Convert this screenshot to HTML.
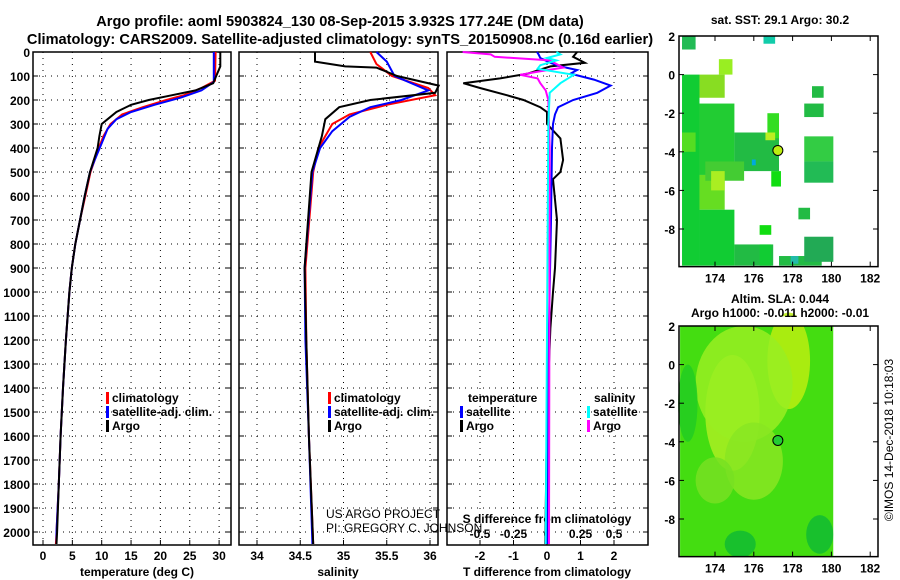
<!DOCTYPE html>
<html><head><meta charset="utf-8"><style>
body{margin:0;background:#fff;}
svg{display:block;font-family:"Liberation Sans",sans-serif;font-weight:bold;}
</style></head><body>
<svg id="c" width="900" height="580" viewBox="0 0 900 580">
<text x="340" y="26" text-anchor="middle" font-size="14.6">Argo profile: aoml 5903824_130 08-Sep-2015 3.932S 177.24E (DM data)</text>
<text x="340" y="44" text-anchor="middle" font-size="14.6">Climatology: CARS2009. Satellite-adjusted climatology: synTS_20150908.nc (0.16d earlier)</text>
<g id="g"></g>
</svg>
<script>
// ---- data ----
const depthTicks=[0,100,200,300,400,500,600,700,800,900,1000,1100,1200,1300,1400,1500,1600,1700,1800,1900,2000];
const tempTicks=[0,5,10,15,20,25,30];
const salTicks=[34,34.5,35,35.5,36];
const tdTicks=[-2,-1,0,1,2];
const sdTicks=[-0.5,-0.25,0,0.25,0.5];
const sdLabels=['-0.5','-0.25','0','0.25','0.5'];
const tArgoD=[0,60,100,130,160,180,200,220,250,280,300,350,400,500,600,700,800,900,1000,1200,1400,1600,1800,2000,2050];
const tArgo=[30.2,30.2,29.5,29,26,22,18,15,12.5,11,10,9.6,9.3,8.0,7.1,6.3,5.5,4.9,4.5,3.9,3.4,3.0,2.7,2.4,2.3];
const tClimD=[0,120,150,180,200,230,260,300,350,400,500,600,700,800,900,1000,1200,1400,1600,1800,2000,2050];
const tClim=[29.4,29.3,27,24,21,17,13.5,11.5,10.3,9.5,8.1,7.2,6.3,5.5,4.9,4.5,3.9,3.4,3.0,2.7,2.3,2.2];
const tSatD=[0,125,160,190,220,250,280,320,380,450,500,600,700,800,900,1000,1200,1400,1600,1800,2000,2050];
const tSat=[29.1,29.1,27,23.5,19,15,12.5,11,10,8.8,8.0,7.1,6.3,5.5,4.9,4.5,3.9,3.4,3.0,2.7,2.3,2.3];
const sArgoD=[0,40,60,65,100,140,170,200,230,280,350,500,900,1200,1600,2050];
const sArgo=[34.67,34.67,35.02,35.38,35.62,36.1,36.06,35.31,34.95,34.79,34.75,34.63,34.55,34.57,34.6,34.65];
const sClimD=[0,50,100,150,180,220,260,300,400,500,900,1200,1600,2050];
const sClim=[35.31,35.38,35.56,35.98,36.06,35.5,35.07,34.87,34.71,34.65,34.56,34.57,34.6,34.65];
const sSatD=[0,40,100,160,200,230,270,330,400,500,900,1200,1600,2050];
const sSat=[35.38,35.5,35.59,35.98,35.67,35.31,35.07,34.87,34.73,34.64,34.55,34.56,34.6,34.64];
const dtArgoD=[0,20,45,60,90,110,130,150,180,200,230,250,300,360,450,500,530,700,900,1000,1150,1500,2050];
const dtArgo=[0.9,0.78,1.13,0.1,-0.57,-1.4,-2.5,-2,-1.2,-0.7,-0.2,0,0,0.4,0.48,0.4,0.18,0.3,0.24,0.18,0.1,0,-0.05];
const dtSatD=[0,10,25,45,60,75,90,115,140,170,200,230,260,300,400,700,1200,2050];
const dtSat=[-0.3,-0.25,-0.2,0.1,0.4,0.9,0.7,1.4,1.9,1.5,0.78,0.33,0.24,0.18,0.15,0.12,0.05,0];
const dsArgoD=[0,10,20,35,50,65,80,95,110,130,160,200,400,2050];
const dsArgo=[-0.63,-0.42,-0.39,0.02,0.07,0.12,-0.05,-0.2,-0.07,-0.05,-0.01,0.01,0.02,0.015];
const dsSatD=[0,10,25,35,55,70,95,130,170,300,2050];
const dsSat=[0.07,0.1,0,0.07,-0.05,-0.07,0.2,0.1,0.02,0.01,-0.01];
// ---- geometry ----
const NS="http://www.w3.org/2000/svg";
const g=document.getElementById('g');
const yD=d=>52+d*0.24;
const xT=t=>43+t*5.87;
const xS=s=>257+(s-34)*86.5;
const xDT=v=>547+v*33.5;
const xDS=v=>547+v*134;
const pTop=52,pBot=545;
function el(tag,a,txt){const e=document.createElementNS(NS,tag);for(const k in a)e.setAttribute(k,a[k]);if(txt!==undefined)e.textContent=txt;g.appendChild(e);return e;}
function panel(x0,x1,name,xticks,xf,labels){
  const r=el('rect',{x:x0,y:pTop,width:x1-x0,height:pBot-pTop,fill:'none',stroke:'#000','stroke-width':1.5});
  
  
  depthTicks.forEach(d=>{const l=el('line',{x1:x0,x2:x1,y1:yD(d),y2:yD(d),stroke:'#000','stroke-dasharray':'1 5'});
    
    
    el('line',{x1:x0,x2:x0+5,y1:yD(d),y2:yD(d),stroke:'#000'});el('line',{x1:x1-5,x2:x1,y1:yD(d),y2:yD(d),stroke:'#000'});});
  xticks.forEach((v,i)=>{const x=xf(v);const l=el('line',{x1:x,x2:x,y1:pTop,y2:pBot,stroke:'#000','stroke-dasharray':'1 5'});
    
    
    el('line',{x1:x,x2:x,y1:pBot-5,y2:pBot,stroke:'#000'});
    if(labels){const t=el('text',{x:x,y:560,'text-anchor':'middle','font-size':12},String(v));
    
    }});
}
function line(ds,vs,xf,col,name,w){
  const p=ds.map((d,i)=>(i?'L':'M')+xf(vs[i]).toFixed(1)+' '+yD(d).toFixed(1)).join('');
  const e=el('path',{d:p,fill:'none',stroke:col,'stroke-width':w||2});
  
  
}
panel(33,231,'temperature-panel',tempTicks,xT,true);
panel(239,438,'salinity-panel',salTicks,xS,true);
panel(447,648,'difference-panel',tdTicks,xDT,true);
depthTicks.forEach(d=>{const t=el('text',{x:30,y:yD(d)+5,'text-anchor':'end','font-size':12},String(d));
  
  });
el('text',{x:137,y:576,'text-anchor':'middle','font-size':12},'temperature (deg C)');
el('text',{x:338,y:576,'text-anchor':'middle','font-size':12},'salinity');
el('text',{x:547,y:576,'text-anchor':'middle','font-size':12},'T difference from climatology');
el('text',{x:547,y:523,'text-anchor':'middle','font-size':12},'S difference from climatology');
sdTicks.forEach((v,i)=>{const t=el('text',{x:xDS(v),y:538,'text-anchor':'middle','font-size':12},sdLabels[i]);
  
  });
// series
line(tClimD,tClim,xT,'#f00','temp-climatology-line');
line(tSatD,tSat,xT,'#00f','temp-satellite-line');
line(tArgoD,tArgo,xT,'#000','temp-argo-line');
line(sClimD,sClim,xS,'#f00','sal-climatology-line');
line(sSatD,sSat,xS,'#00f','sal-satellite-line');
line(sArgoD,sArgo,xS,'#000','sal-argo-line');
line(dtArgoD,dtArgo,xDT,'#000','tdiff-argo-line');
line(dtSatD,dtSat,xDT,'#00f','tdiff-satellite-line');
line(dsArgoD,dsArgo,xDS,'#f0f','sdiff-argo-line');
line(dsSatD,dsSat,xDS,'#0ff','sdiff-satellite-line');
// legends
function leg(x,y,col,txt,name){el('rect',{x:x,y:y-10,width:3,height:12,fill:col});
  const t=el('text',{x:x+6,y:y,'font-size':12},txt);
  
  }
[['#f00','climatology'],['#00f','satellite-adj. clim.'],['#000','Argo']].forEach((a,i)=>{
  leg(106,402+i*14,a[0],a[1],'temp-legend-entry');leg(328,402+i*14,a[0],a[1],'sal-legend-entry');});
el('text',{x:468,y:402,'font-size':12},'temperature');
leg(460,416,'#00f','satellite','tdiff-legend-entry');leg(460,430,'#000','Argo','tdiff-legend-entry');
el('text',{x:594,y:402,'font-size':12},'salinity');
leg(587,416,'#0ff','satellite','sdiff-legend-entry');leg(587,430,'#f0f','Argo','sdiff-legend-entry');
el('text',{x:326,y:518,'font-size':12,'font-weight':'normal'},'US ARGO PROJECT');
el('text',{x:326,y:532,'font-size':12,'font-weight':'normal'},'PI: GREGORY C. JOHNSON');
// maps
const mx=lon=>715+(lon-174)*19.4;
const my1=lat=>36+(2-lat)*19.3, my2=lat=>326+(2-lat)*19.3;
const cells=[[172.3,2,173,1.3,'#22bb55'],[174.2,0.8,174.9,0,'#99ee22'],[176.5,2,177.1,1.6,'#11ccaa'],
[172.3,0,173.2,-9.9,'#11cc33'],[173.2,0,174.5,-1.2,'#88dd22'],[173.2,-1.5,175,-5.2,'#22cc33'],[173.2,-5.2,174.5,-7,'#66dd22'],
[173.2,-7,175,-9.9,'#11cc33'],[175,-3,177.3,-5,'#22bb44'],[175,-8.8,177,-9.9,'#22bb44'],[176.7,-2,177.3,-3.3,'#33dd22'],
[176.9,-5,177.4,-5.8,'#11dd11'],[176.3,-7.8,176.9,-8.3,'#11dd11'],[176.3,-8.8,176.9,-9.9,'#11cc33'],[177.3,-9.4,179.5,-9.9,'#22bb44'],
[179,-0.6,179.6,-1.2,'#22bb44'],[178.6,-1.5,179.6,-2.2,'#22bb44'],[178.6,-3.2,180.1,-4.5,'#33cc44'],[178.6,-4.5,180.1,-5.6,'#22bb55'],
[178.3,-6.9,178.9,-7.5,'#22bb44'],[178.6,-8.4,180.1,-9.7,'#22aa55'],[173.5,-4.5,175.5,-5.5,'#44cc33'],
[172.3,-3,173,-4,'#55dd22'],[173.8,-5,174.5,-6,'#aaee22'],[176.6,-3,177.1,-3.4,'#bbee22'],[175.9,-4.4,176.1,-4.7,'#00aadd'],[177.9,-9.4,178.3,-9.8,'#22bbaa']];
cells.forEach(c=>{const r=el('rect',{x:mx(c[0]),y:my1(c[1]),width:mx(c[2])-mx(c[0]),height:my1(c[3])-my1(c[1]),fill:c[4]});
  
  });
el('rect',{x:mx(172.2),y:my2(2),width:mx(180.1)-mx(172.2),height:my2(-9.95)-my2(2),fill:'#44dd11'});
[[174.9,-2.5,1.4,3,'#aaee22'],[177.8,0.2,1.1,2.5,'#bbee11'],[175.5,-1,2.5,3,'#99ee22'],[176,-5,1.5,2,'#88e622'],[174,-6,1,1.2,'#77e022'],
[179.4,-8.8,0.7,1,'#11bb33'],[175.3,-9.3,0.8,0.7,'#11bb33'],[172.6,-2,0.5,2,'#22cc22']].forEach(b=>{
  const e=el('ellipse',{cx:mx(b[0]),cy:my2(b[1]),rx:b[2]*19.4,ry:b[3]*19.3,fill:b[4],opacity:0.85});
  
  });
el('rect',{x:mx(180.1),y:my2(2.1),width:mx(182.4)-mx(180.1),height:my2(-10)-my2(2.1),fill:'#fff'});
el('rect',{x:mx(172.2),y:my2(-9.95),width:mx(182.4)-mx(172.2),height:20,fill:'#fff'});
el('rect',{x:mx(172.2),y:my2(2.5),width:mx(182.4)-mx(172.2),height:my2(2)-my2(2.5),fill:'#fff'});
[[my1,'sst'],[my2,'sla']].forEach(([my,n])=>{
  const f=el('rect',{x:679,y:my(2),width:199,height:my(-9.95)-my(2),fill:'none',stroke:'#000','stroke-width':1.5});
  
  
  [2,0,-2,-4,-6,-8].forEach(l=>{el('line',{x1:679,x2:684,y1:my(l),y2:my(l),stroke:'#000'});el('line',{x1:873,x2:878,y1:my(l),y2:my(l),stroke:'#000'});
    const t=el('text',{x:675,y:my(l)+5,'text-anchor':'end','font-size':12},String(l));
    
    });
  [174,176,178,180,182].forEach(l=>{el('line',{x1:mx(l),x2:mx(l),y1:my(-9.95),y2:my(-9.95)-5,stroke:'#000'});el('line',{x1:mx(l),x2:mx(l),y1:my(2),y2:my(2)+5,stroke:'#000'});
    const t=el('text',{x:mx(l),y:my(-9.95)+16,'text-anchor':'middle','font-size':12},String(l));
    
    });
  el('circle',{cx:mx(177.24),cy:my(-3.93),r:5,fill:n=='sst'?'#bbee11':'#22cc33',stroke:'#000'});
});
el('text',{x:780,y:24,'text-anchor':'middle','font-size':12},'sat. SST: 29.1 Argo: 30.2');
el('text',{x:780,y:303,'text-anchor':'middle','font-size':12},'Altim. SLA: 0.044');
el('text',{x:780,y:317,'text-anchor':'middle','font-size':12},'Argo h1000: -0.011 h2000: -0.01');
el('text',{x:893,y:440,'text-anchor':'middle','font-size':12,'font-weight':'normal',transform:'rotate(-90 893 440)'},'©IMOS 14-Dec-2018 10:18:03');
</script>
</body></html>
